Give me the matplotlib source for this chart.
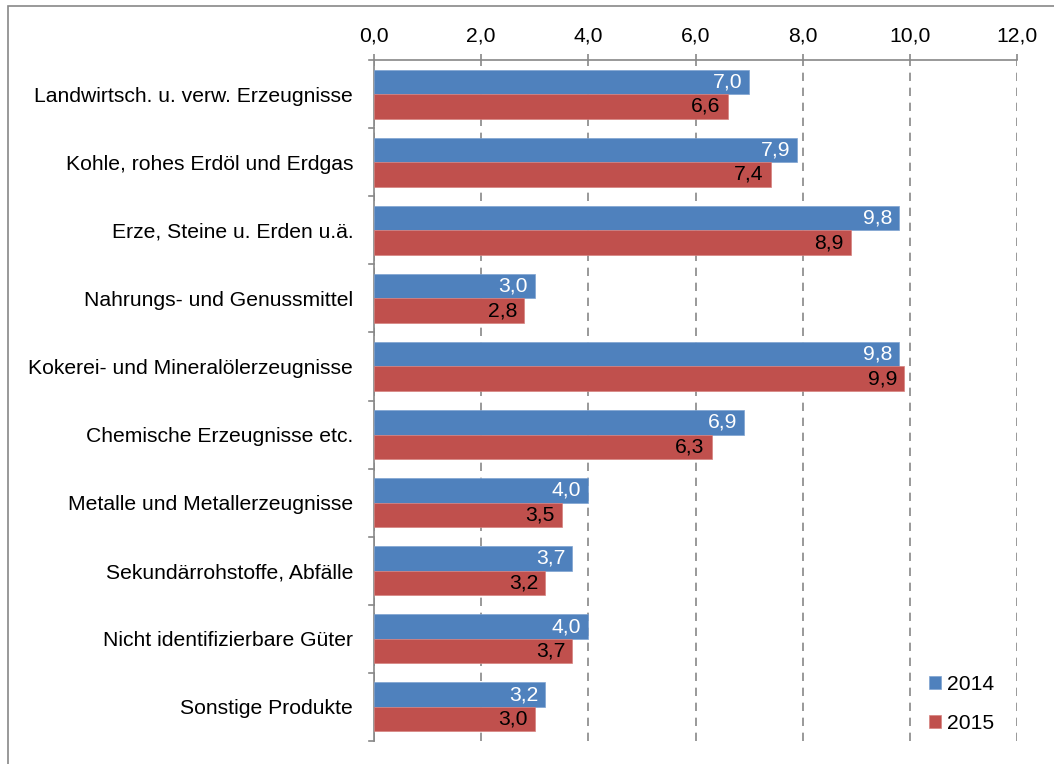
import matplotlib
matplotlib.use("Agg")
import matplotlib.pyplot as plt
import numpy as np
from matplotlib.patches import Rectangle
from matplotlib.lines import Line2D

plt.rcParams['font.family'] = ['Liberation Sans', 'DejaVu Sans']

categories = [
    "Landwirtsch. u. verw. Erzeugnisse",
    "Kohle, rohes Erdöl und Erdgas",
    "Erze, Steine u. Erden u.ä.",
    "Nahrungs- und Genussmittel",
    "Kokerei- und Mineralölerzeugnisse",
    "Chemische Erzeugnisse etc.",
    "Metalle und Metallerzeugnisse",
    "Sekundärrohstoffe, Abfälle",
    "Nicht identifizierbare Güter",
    "Sonstige Produkte",
]
values_2014 = [7.0, 7.9, 9.8, 3.0, 9.8, 6.9, 4.0, 3.7, 4.0, 3.2]
values_2015 = [6.6, 7.4, 8.9, 2.8, 9.9, 6.3, 3.5, 3.2, 3.7, 3.0]
x_ticks = [0, 2, 4, 6, 8, 10, 12]

blue = "#4F81BD"
red = "#C0504D"
fs = 15.2

fig = plt.figure(figsize=(10.54, 7.64), dpi=100)
ax = fig.add_axes([374 / 1054, 1 - 741 / 764, (1017 - 374) / 1054, (741 - 60) / 764])

# frame around the whole chart
fig.add_artist(Rectangle((8 / 1054, -0.1), 1.2, 1 - 6 / 764 + 0.1, transform=fig.transFigure,
                         fill=False, edgecolor="#888888", linewidth=1.2))

n = len(categories)
y = np.arange(n)
h = 0.36
b1 = ax.barh(y - h / 2, values_2014, height=h, color=blue, edgecolor="#7FA3D1", linewidth=0.5, label="2014", zorder=3)
b2 = ax.barh(y + h / 2, values_2015, height=h, color=red, edgecolor="#D6827F", linewidth=0.5, label="2015", zorder=3)

def fmt(v):
    return f"{v:.1f}".replace(".", ",")

for rect, v in zip(b1, values_2014):
    ax.annotate(fmt(v), (v, rect.get_y() + rect.get_height() / 2), xytext=(-5, 0),
                textcoords="offset points", ha="right", va="center", color="white", fontsize=fs, zorder=4)
for rect, v in zip(b2, values_2015):
    ax.annotate(fmt(v), (v, rect.get_y() + rect.get_height() / 2), xytext=(-5, 0),
                textcoords="offset points", ha="right", va="center", color="black", fontsize=fs, zorder=4)

ax.set_xlim(0, 12)
ax.set_ylim(n - 0.5, -0.5)
ax.xaxis.tick_top()
ax.set_xticks(x_ticks)
ax.set_xticklabels([fmt(t) for t in x_ticks], fontsize=fs)
ax.tick_params(axis="x", direction="out", length=4.3, color="#888888", width=1.2, pad=6.5)

ax.set_yticks(y)
ax.set_yticklabels(categories, fontsize=fs)
ax.tick_params(axis="y", length=0, pad=15)
for b in np.arange(-0.5, n, 1.0):
    ax.add_line(Line2D([-0.1, 0], [b, b], color="#888888", linewidth=1.2, clip_on=False))

ax.grid(axis="x", linestyle=(0, (5, 4)), color="#888888", linewidth=1.2, zorder=0)
ax.grid(axis="y", visible=False)
for s in ["right", "bottom"]:
    ax.spines[s].set_visible(False)
ax.spines["top"].set_color("#888888")
ax.spines["left"].set_color("#888888")
ax.spines["top"].set_linewidth(1.2)
ax.spines["left"].set_linewidth(1.2)

ax.legend(loc="center left", bbox_to_anchor=(929 / 1054, 1 - 704 / 764), bbox_transform=fig.transFigure,
          frameon=False, fontsize=fs,
          handlelength=0.55, handleheight=0.55, handletextpad=0.3, labelspacing=0.95,
          borderaxespad=0, borderpad=0)

fig.savefig("out.png", dpi=100)
